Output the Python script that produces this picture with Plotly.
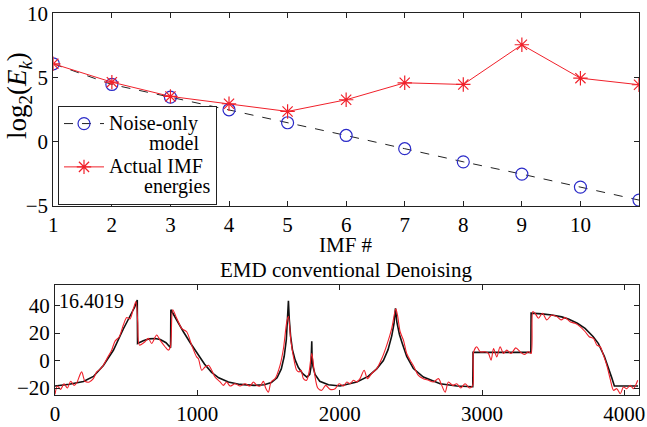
import plotly.graph_objects as go

# ---------------- Top panel data ----------------
imf_index = [1, 2, 3, 4, 5, 6, 7, 8, 9, 10, 11]
noise_model = [6.07, 4.46, 3.47, 2.49, 1.48, 0.49, -0.54, -1.56, -2.52, -3.53, -4.54]
actual_energy = [6.07, 4.64, 3.53, 2.96, 2.36, 3.27, 4.59, 4.46, 7.55, 4.95, 4.44]

# ---------------- Bottom panel data ----------------
signal_x = [0, 100, 200, 270, 340, 410, 480, 527, 560, 578, 580, 620, 660, 703, 740, 780, 812,
            814, 850, 902, 950, 1000, 1050, 1100, 1150, 1218, 1300, 1400, 1470, 1520, 1560, 1590,
            1610, 1625, 1634, 1640, 1646, 1655, 1668, 1687, 1710, 1740, 1770, 1790, 1798, 1802,
            1804, 1806, 1812, 1827, 1860, 1921, 2003, 2120, 2200, 2260, 2307, 2340, 2366, 2382,
            2392, 2402, 2420, 2440, 2471, 2518, 2588, 2706, 2823, 2935, 2937, 3343, 3345, 3420,
            3490, 3560, 3607, 3670, 3724, 3780, 3818, 3860, 3888, 3910, 3930, 4096]
signal_y = [-18.5, -17.2, -15.2, -11.5, -3.5, 7.5, 23.0, 32.0, 39.0, 44.0, 12.5, 14.5, 15.8, 16.1,
            15.3, 13.0, 9.3, 37.0, 30.0, 21.0, 13.0, 5.0, -2.5, -8.5, -12.5, -15.6, -17.3, -18.0,
            -17.5, -16.0, -12.5, -6.0, 3.0, 15.0, 28.0, 43.5, 30.0, 18.0, 8.0, 0.5, -5.0, -9.5,
            -12.0, -10.0, -5.0, 3.0, 14.0, 3.0, -4.0, -10.0, -15.0, -17.5, -18.5, -15.6, -11.5,
            -6.0, 0.0, 8.0, 18.0, 27.0, 38.0, 28.0, 19.0, 12.5, 3.0, -5.8, -11.9, -16.8, -18.5,
            -19.0, 6.0, 6.0, 34.5, 34.0, 33.2, 31.8, 30.3, 27.2, 23.4, 17.5, 12.4, 3.0, -4.6,
            -12.0, -18.5, -18.5]

denoised_x = [0, 17, 40, 63, 87, 110, 134, 152, 187, 211, 241, 269, 293, 316, 340, 368, 398, 422,
              452, 480, 504, 527, 550, 569, 581, 593, 632, 656, 679, 714, 738, 773, 796, 811, 827,
              855, 890, 925, 960, 995, 1007, 1031, 1054, 1078, 1101, 1124, 1160, 1183, 1206, 1230,
              1265, 1300, 1335, 1370, 1394, 1417, 1441, 1464, 1480, 1499, 1518, 1546, 1581, 1605,
              1628, 1640, 1658, 1682, 1698, 1715, 1729, 1745, 1768, 1785, 1804, 1822, 1846, 1874,
              1902, 1933, 1968, 1996, 2026, 2050, 2073, 2097, 2120, 2143, 2172, 2195, 2225, 2261,
              2296, 2331, 2366, 2394, 2406, 2425, 2448, 2471, 2495, 2523, 2553, 2588, 2624, 2659,
              2694, 2717, 2741, 2764, 2795, 2823, 2851, 2881, 2912, 2935, 2940, 2963, 2987, 3022,
              3045, 3064, 3081, 3104, 3127, 3151, 3174, 3205, 3237, 3268, 3298, 3326, 3345, 3357,
              3373, 3397, 3425, 3455, 3490, 3526, 3556, 3584, 3619, 3654, 3689, 3725, 3753, 3783,
              3807, 3830, 3853, 3877, 3900, 3924, 3947, 3971, 3994, 4017, 4041, 4064, 4094]
denoised_y = [-24.5, -18.5, -20.9, -16.8, -19.9, -15.0, -18.0, -16.3, -8.2, -15.0, -15.5, -13.1,
              -8.2, -6.3, -3.4, 2.0, 7.6, 14.2, 17.4, 25.9, 31.3, 30.3, 37.6, 43.0, 28.3, 11.3,
              13.7, 16.2, 12.5, 18.6, 14.9, 10.1, 7.6, 10.1, 36.9, 30.8, 23.5, 21.0, 11.3, 2.7,
              1.5, -7.0, -4.6, -3.4, -7.0, -11.9, -15.5, -18.0, -15.5, -18.5, -16.8, -18.5, -16.8,
              -18.5, -15.5, -18.0, -18.5, -15.1, -19.9, -22.9, -15.5, -13.1, -3.4, 8.8, 28.0, 32.2,
              13.7, -0.9, -7.0, -8.2, -7.0, -13.1, -14.3, -8.2, 5.4, -8.2, -19.9, -21.6, -18.0,
              -20.9, -20.4, -16.8, -18.5, -15.5, -16.8, -14.3, -15.5, -13.1, -7.0, -13.1, -9.4,
              -5.8, 1.5, 11.3, 23.5, 37.6, 33.2, 21.0, 14.9, 5.2, 0.3, -4.6, -10.7, -13.1, -14.3,
              -15.5, -13.1, -18.0, -22.9, -15.5, -18.0, -16.8, -19.9, -16.8, -19.9, -18.0, 5.9,
              10.1, 6.4, 6.4, 5.2, 0.3, 8.8, 2.7, 10.1, 5.2, 7.6, 5.2, 9.3, 6.4, 4.5, 6.4, 5.2,
              35.7, 34.4, 30.8, 34.4, 29.6, 33.2, 32.0, 29.6, 31.3, 28.3, 27.1, 24.7, 21.0, 17.4,
              16.2, 11.3, 10.1, 4.0, -3.4, -13.1, -21.6, -20.4, -24.1, -19.2, -20.4, -18.0, -20.4,
              -14.3]

top_xticks = [1, 2, 3, 4, 5, 6, 7, 8, 9, 10, 11]
top_yticks = [-5, 0, 5, 10]
bot_xticks = [0, 1000, 2000, 3000, 4000]
bot_yticks = [-20, 0, 20, 40]

SERIF = "Liberation Serif"
W, H = 647, 427
NB = "\u00a0"


def legend_label(line1, line2, pad):
    return ('<span style="font-size:20px">' + line1 + '</span><br>'
            '<span style="font-size:20px">' + NB * pad + line2 + '</span>')


fig = go.Figure()

fig.add_trace(go.Scatter(
    x=imf_index, y=noise_model, mode="lines+markers",
    name=legend_label("Noise-only", "model", 8),
    line=dict(color="#222222", width=1, dash="dash"),
    marker=dict(symbol="circle-open", size=12, color="#2b2bc8", line=dict(width=1.2, color="#2b2bc8")),
    xaxis="x", yaxis="y"))
fig.add_trace(go.Scatter(
    x=imf_index, y=actual_energy, mode="lines+markers",
    name=legend_label("Actual IMF", "energies", 7),
    line=dict(color="#f0202a", width=1),
    marker=dict(symbol="asterisk-open", size=12, color="#f0202a", line=dict(width=1.2, color="#f0202a")),
    xaxis="x", yaxis="y"))

fig.add_trace(go.Scatter(
    x=signal_x, y=signal_y, mode="lines", showlegend=False,
    line=dict(color="#111111", width=1.6), xaxis="x2", yaxis="y2"))
fig.add_trace(go.Scatter(
    x=denoised_x, y=denoised_y, mode="lines", showlegend=False, line_shape="spline",
    line=dict(color="#f0202a", width=1.1, smoothing=0.8), xaxis="x2", yaxis="y2"))

axis_common = dict(showline=True, linecolor="#222222", linewidth=1, mirror="ticks",
                   ticks="inside", ticklen=5, tickcolor="#222222", showgrid=False,
                   zeroline=False, automargin=False,
                   tickfont=dict(family=SERIF, size=21, color="black"))

fig.update_layout(
    width=W, height=H, margin=dict(l=0, r=0, t=0, b=0, autoexpand=False),
    paper_bgcolor="white", plot_bgcolor="white",
    font=dict(family=SERIF, color="black"),
    xaxis=dict(domain=[53.3 / W, 639 / W], range=[1, 11], tickvals=top_xticks,
               anchor="y", **axis_common),
    yaxis=dict(domain=[(H - 206) / H, (H - 13.3) / H], range=[-5, 10], tickvals=top_yticks,
               anchor="x", **axis_common),
    xaxis2=dict(domain=[55 / W, 639 / W], range=[0, 4103], tickvals=bot_xticks,
                anchor="y2", **axis_common),
    yaxis2=dict(domain=[(H - 395) / H, (H - 285) / H], range=[-25, 55], tickvals=bot_yticks,
                anchor="x2", **axis_common),
    legend=dict(x=58 / W, y=(H - 106) / H, xanchor="left", yanchor="top",
                bgcolor="white", bordercolor="#222222", borderwidth=1,
                font=dict(family=SERIF, size=15.5, color="black"),
                itemwidth=40, valign="top", tracegroupgap=0),
    annotations=[
        dict(text="IMF #", x=346 / W, y=(H - 245) / H, xref="paper", yref="paper",
             showarrow=False, font=dict(family=SERIF, size=21), xanchor="center", yanchor="middle"),
        dict(text="log<sub>2</sub>(<i>E<sub>k</sub></i>)", x=19 / W, y=(H - 96) / H,
             xref="paper", yref="paper", textangle=-90,
             showarrow=False, font=dict(family=SERIF, size=27), xanchor="center", yanchor="middle"),
        dict(text="EMD conventional Denoising", x=346 / W, y=(H - 270) / H, xref="paper", yref="paper",
             showarrow=False, font=dict(family=SERIF, size=21), xanchor="center", yanchor="middle"),
        dict(text="16.4019", x=57 / W, y=(H - 301) / H, xref="paper", yref="paper",
             showarrow=False, font=dict(family=SERIF, size=20), xanchor="left", yanchor="middle"),
    ],
)

fig.write_html("out.html", config={"displayModeBar": False},
               post_script="document.body.style.margin='0px';")
